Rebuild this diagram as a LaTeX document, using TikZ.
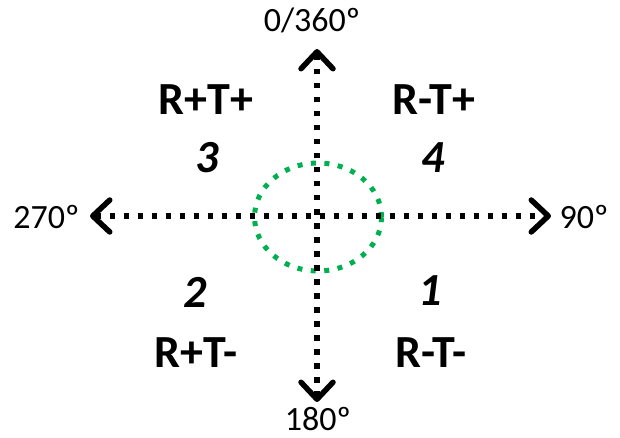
\documentclass[tikz,border=0pt]{standalone}
\usepackage{fontspec}
\setmainfont{Carlito}
\usetikzlibrary{arrows.meta,shapes.geometric}
\definecolor{dotgreen}{RGB}{0,176,80}
\tikzset{
  barb/.tip={Straight Barb[length=17pt,width=32pt,line width=5.5pt,round]},
  axis/.style={line width=5.5pt, draw=black, dash pattern=on 5.5pt off 8.5pt, barb-barb},
  deg/.style={font=\fontsize{34}{40}\selectfont, inner sep=0pt, anchor=base},
  quad/.style={font=\fontsize{46}{52}\selectfont\bfseries, inner sep=0pt, anchor=base},
  num/.style={font=\fontsize{46}{52}\selectfont\bfseries\itshape, inner sep=0pt, anchor=base},
  ring/.style={ellipse, draw=dotgreen, line width=5pt, dash pattern=on 5pt off 8.5pt,
    minimum width=127pt, minimum height=108pt, inner sep=0pt}
}
\begin{document}
\begin{tikzpicture}[x=1pt,y=-1pt]
\useasboundingbox (0,0) rectangle (620,438);
\node[ring] (circ) at (318,217) {};
\coordinate (top) at (317,49);
\coordinate (bottom) at (317,402);
\coordinate (left) at (90,216);
\coordinate (right) at (551,216);
\draw[axis] (bottom) -- (top);
\draw[axis] (left) -- (right);
\node[deg] (l0) at (312,32) {0/360º};
\node[deg] (l270) at (46.5,228) {270º};
\node[deg] (l90) at (584,228) {90º};
\node[deg] (l180) at (318,430) {180º};
\node[quad] (q3t) at (206,115) {R+T+};
\node[num] (q3n) at (207,173) {3};
\node[quad] (q4t) at (434,115) {R-T+};
\node[num] (q4n) at (433,173) {4};
\node[num] (q2n) at (195,307) {2};
\node[quad] (q2t) at (196,367) {R+T-};
\node[num] (q1n) at (430,305) {1};
\node[quad] (q1t) at (431,367) {R-T-};
\end{tikzpicture}
\end{document}
